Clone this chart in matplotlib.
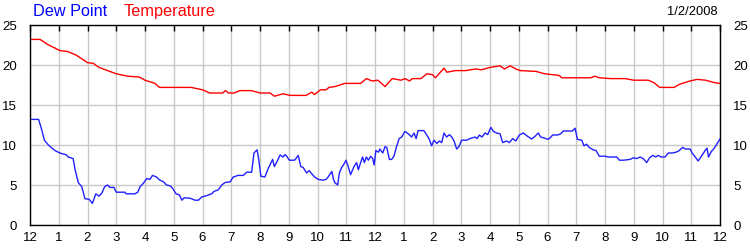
import matplotlib
matplotlib.use("Agg")
import matplotlib.pyplot as plt

plt.rcParams['font.family'] = ['Liberation Sans', 'DejaVu Sans']

# hours since midnight, readings in degrees
temp_hours = [0, 0.35, 0.6, 1.04, 1.3, 1.6, 2.0, 2.2, 2.4, 2.7, 3.0, 3.4, 3.8, 4.0, 4.35,
              4.5, 5.6, 6.0, 6.25, 6.7, 6.8, 6.9, 7.1, 7.3, 7.7, 8.0, 8.35, 8.5, 8.8,
              9.05, 9.4, 9.6, 9.8, 9.9, 10.1, 10.3, 10.4, 10.6, 10.95, 11.5, 11.7,
              11.9, 12.1, 12.35, 12.6, 12.9, 13.05, 13.2, 13.3, 13.6, 13.8, 14.0, 14.1,
              14.4, 14.5, 14.8, 15.15, 15.5, 15.7, 16.0, 16.35, 16.5, 16.7, 16.9,
              17.05, 17.6, 17.9, 18.4, 18.5, 19.5, 19.65, 19.8, 20.2, 20.7, 21.0,
              21.5, 21.7, 21.9, 22.4, 22.6, 22.95, 23.2, 23.5, 23.8, 24.0]
temp_values = [23.2, 23.2, 22.6, 21.8, 21.7, 21.25, 20.3, 20.2, 19.7, 19.3, 18.9, 18.6,
               18.5, 18.1, 17.7, 17.2, 17.2, 16.9, 16.5, 16.5, 16.8, 16.5, 16.5, 16.8,
               16.8, 16.5, 16.5, 16.1, 16.4, 16.2, 16.2, 16.2, 16.6, 16.3, 16.9, 16.9,
               17.2, 17.3, 17.7, 17.7, 18.3, 18.0, 18.1, 17.3, 18.3, 18.1, 18.3, 18.0,
               18.3, 18.3, 18.9, 18.8, 18.4, 19.6, 19.1, 19.3, 19.3, 19.5, 19.4, 19.7,
               19.9, 19.5, 19.9, 19.5, 19.3, 19.2, 18.9, 18.7, 18.4, 18.4, 18.6, 18.4,
               18.3, 18.3, 18.1, 18.1, 17.8, 17.2, 17.2, 17.6, 18.0, 18.2, 18.1, 17.8, 17.7]

dew_hours = [0, 0.3, 0.4, 0.5, 0.64, 0.7, 0.87, 1.04, 1.27, 1.33, 1.5, 1.57, 1.68, 1.8,
             1.91, 2.06, 2.17, 2.29, 2.4, 2.5, 2.6, 2.7, 2.78, 2.92, 3.0, 3.3, 3.34,
             3.65, 3.75, 3.83, 3.94, 4.06, 4.17, 4.26, 4.4, 4.52, 4.64, 4.75, 4.87,
             4.96, 5.08, 5.2, 5.28, 5.36, 5.57, 5.74, 5.86, 5.97, 6.09, 6.2, 6.32,
             6.4, 6.55, 6.67, 6.78, 6.96, 7.07, 7.24, 7.42, 7.54, 7.71, 7.79, 7.9,
             7.96, 8.03, 8.17, 8.29, 8.44, 8.5, 8.6, 8.7, 8.8, 8.87, 8.93, 9.02, 9.2,
             9.25, 9.33, 9.42, 9.5, 9.62, 9.71, 9.8, 9.9, 10.03, 10.18, 10.3, 10.37,
             10.5, 10.55, 10.6, 10.7, 10.76, 10.84, 10.92, 10.99, 11.07, 11.15, 11.27,
             11.36, 11.42, 11.5, 11.57, 11.63, 11.7, 11.77, 11.85, 11.92, 11.97,
             12.03, 12.12, 12.17, 12.27, 12.35, 12.41, 12.5, 12.58, 12.66, 12.75,
             12.84, 12.93, 13.04, 13.16, 13.27, 13.36, 13.43, 13.5, 13.7, 13.8,
             13.89, 13.97, 14.05, 14.15, 14.24, 14.32, 14.4, 14.49, 14.59, 14.67,
             14.75, 14.84, 14.92, 15.01, 15.19, 15.3, 15.48, 15.55, 15.63, 15.72,
             15.83, 15.92, 16.03, 16.12, 16.23, 16.35, 16.44, 16.58, 16.67, 16.79,
             16.9, 17.02, 17.16, 17.3, 17.45, 17.57, 17.68, 17.76, 17.87, 17.97,
             18.05, 18.18, 18.35, 18.46, 18.55, 18.87, 18.96, 19.04, 19.19, 19.27,
             19.36, 19.45, 19.59, 19.69, 19.8, 20.0, 20.12, 20.41, 20.5, 20.65, 20.87,
             20.99, 21.1, 21.22, 21.33, 21.45, 21.55, 21.66, 21.76, 21.86, 21.95,
             22.09, 22.2, 22.35, 22.47, 22.58, 22.7, 22.8, 22.96, 23.03, 23.14, 23.24,
             23.35, 23.5, 23.55, 23.6, 23.7, 23.78, 23.87, 24.0]
dew_values = [13.2, 13.2, 12.0, 10.6, 10.0, 9.8, 9.3, 9.0, 8.75, 8.5, 8.3, 6.9, 5.3, 4.8,
              3.3, 3.2, 2.7, 3.9, 3.6, 4.0, 4.8, 5.0, 4.7, 4.7, 4.1, 4.1, 3.9, 3.9,
              4.1, 4.8, 5.2, 5.8, 5.7, 6.2, 6.0, 5.6, 5.4, 5.0, 4.9, 4.6, 3.9, 3.75,
              3.1, 3.4, 3.35, 3.1, 3.1, 3.5, 3.6, 3.75, 3.9, 4.2, 4.4, 5.0, 5.3, 5.4,
              6.0, 6.2, 6.2, 6.6, 6.6, 9.0, 9.4, 8.1, 6.1, 6.0, 7.1, 8.2, 7.3, 8.0,
              8.75, 8.5, 8.8, 8.6, 8.1, 8.1, 8.3, 8.7, 7.3, 7.2, 6.5, 6.8, 6.4, 6.0,
              5.7, 5.6, 5.7, 6.0, 6.7, 5.8, 5.3, 5.0, 6.5, 7.2, 7.6, 8.1, 7.3, 6.3,
              7.3, 7.8, 6.9, 7.8, 8.5, 7.8, 8.5, 8.1, 8.6, 8.3, 7.5, 9.3, 9.1, 9.5,
              9.0, 9.8, 9.7, 8.2, 8.2, 8.6, 9.8, 10.8, 11.0, 11.7, 11.4, 11.0, 11.5,
              10.8, 11.8, 11.8, 11.25, 10.7, 9.9, 10.6, 10.2, 10.5, 10.3, 11.5, 11.0,
              11.3, 11.0, 10.5, 9.5, 9.8, 10.6, 10.6, 10.8, 11.0, 10.8, 11.25, 11.0,
              11.5, 11.3, 12.2, 11.7, 11.5, 11.4, 10.3, 10.5, 10.3, 10.8, 10.5, 11.25,
              11.5, 11.1, 10.75, 11.1, 11.5, 11.0, 10.9, 10.75, 10.75, 11.25, 11.25,
              11.4, 11.75, 11.75, 12.1, 10.7, 10.6, 9.9, 10.1, 9.7, 9.4, 9.3, 8.6,
              8.6, 8.5, 8.5, 8.1, 8.1, 8.2, 8.4, 8.3, 8.5, 8.3, 7.8, 8.4, 8.7, 8.5,
              8.7, 8.5, 8.5, 9.0, 9.0, 9.1, 9.3, 9.7, 9.5, 9.5, 9.0, 8.5, 8.0, 8.6,
              9.4, 9.6, 8.5, 9.2, 9.5, 10.0, 10.75]

hour_labels = ['12'] + [str(h) for h in range(1, 12)] + ['12'] + [str(h) for h in range(1, 12)] + ['12']
y_ticks = [0, 5, 10, 15, 20, 25]

fig = plt.figure(figsize=(7.5, 2.5), dpi=100)
ax = fig.add_axes([0.04, 0.1, 0.92, 0.8])

ax.plot(temp_hours, temp_values, color='#ff0000', lw=1)
ax.plot(dew_hours, dew_values, color='#2020ff', lw=1)

ax.set_xlim(0, 24)
ax.set_ylim(0, 25)
ax.set_xticks(range(25))
ax.set_xticklabels(hour_labels)
ax.set_yticks(y_ticks)
ax.grid(True, color='#c8c8c8', lw=1)
ax.set_axisbelow(True)

ax.tick_params(axis='x', top=True, bottom=False, direction='in', length=4,
               width=1, labelsize=9.5, pad=5, color='black')
ax.tick_params(axis='y', left=False, right=False, labelleft=True, labelright=True,
               labelsize=9.5, pad=6)
for s in ax.spines.values():
    s.set_color('black')
    s.set_linewidth(1)

fig.text(0.044, 0.955, 'Dew Point', color='#0000ff', fontsize=11.7, va='center')
fig.text(0.165, 0.955, 'Temperature', color='#ff0000', fontsize=11.7, va='center')
fig.text(0.957, 0.952, '1/2/2008', color='black', fontsize=9.3, va='center', ha='right')

fig.savefig('out.png', dpi=100)
